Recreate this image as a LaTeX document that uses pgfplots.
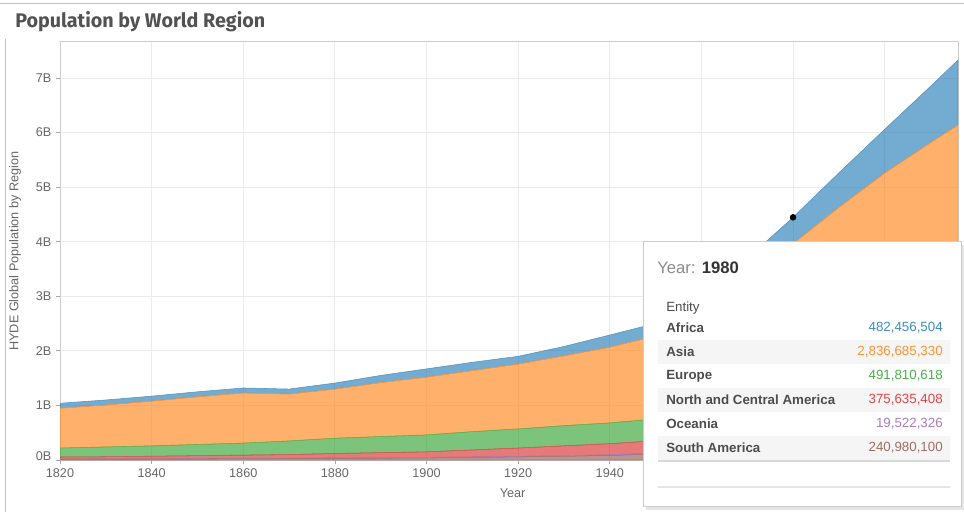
\documentclass[border=0pt]{standalone}
\usepackage{fontspec}
\setmainfont{Liberation Sans}
\newfontfamily\titlefont{Fira Sans}
\usepackage{pgfplots}
\usepackage{pgfplotstable}
\pgfplotsset{compat=1.18}

\definecolor{cAf}{HTML}{1F77B4}
\definecolor{cAs}{HTML}{FF7F0E}
\definecolor{cEu}{HTML}{2CA02C}
\definecolor{cNA}{HTML}{D62728}
\definecolor{cOc}{HTML}{9467BD}
\definecolor{cSA}{HTML}{8C564B}
\definecolor{txt}{HTML}{666666}
\definecolor{dark}{HTML}{4D4D4D}

% population in billions, stacked bottom to top: SA, Oc, NCA, Eu, As, Af
\pgfplotstableread{
year SA     Oc     NCA   Eu    As    Af
1820 0.015  0.002  0.038 0.165 0.73  0.09
1830 0.017  0.002  0.041 0.18  0.77  0.09
1840 0.019  0.002  0.049 0.19  0.82  0.09
1850 0.022  0.003  0.055 0.205 0.875 0.09
1860 0.025  0.003  0.062 0.22  0.92  0.09
1870 0.028  0.004  0.068 0.25  0.86  0.09
1880 0.033  0.005  0.082 0.28  0.90  0.11
1890 0.036  0.006  0.093 0.295 0.99  0.13
1900 0.040  0.006  0.104 0.31  1.06  0.15
1910 0.048  0.007  0.130 0.335 1.12  0.15
1920 0.058  0.008  0.154 0.35  1.19  0.14
1930 0.070  0.010  0.180 0.37  1.28  0.17
1940 0.085  0.011  0.204 0.38  1.39  0.22
1950 0.110  0.013  0.230 0.40  1.52  0.23
1960 0.145  0.016  0.270 0.44  1.87  0.28
1970 0.190  0.019  0.320 0.47  2.33  0.36
1980 0.241  0.0195 0.376 0.492 2.837 0.482
1990 0.290  0.021  0.420 0.50  3.40  0.63
2000 0.350  0.023  0.470 0.51  3.907 0.80
2010 0.400  0.027  0.540 0.52  4.33  1.03
2016 0.420  0.030  0.570 0.52  4.60  1.19
}\popdata

\begin{document}
\begin{tikzpicture}
\path[use as bounding box] (0,0) rectangle (723pt,384pt);
\begin{axis}[
    at={(45pt,39pt)}, anchor=south west,
    width=673.5pt, height=313.5pt, scale only axis,
    xmin=1820, xmax=2016, ymin=0, ymax=7.66,
    stack plots=y,
    xtick={1820,1840,...,2000},
    xticklabels={1820,1840,1860,1880,1900,1920,1940,1960,1980,2000},
    ytick={0,1,...,7},
    yticklabels={{\raisebox{6pt}{0B}},1B,2B,3B,4B,5B,6B,7B},
    grid=major,
    major grid style={black!8, line width=0.75pt},
    axis line style={black!20, line width=0.75pt},
    tick style={black!35, line width=0.6pt},
    tick align=outside, major tick length=3pt, tick pos=left,
    ticklabel style={font=\fontsize{9.5}{11}\selectfont, text=txt},
    xlabel={Year},
    xlabel style={at={(axis description cs:0.504,-0.079)}, anchor=center,
        font=\fontsize{9.5}{11}\selectfont, text=txt},
    ylabel={HYDE Global Population by Region},
    ylabel style={at={(axis description cs:-0.050,0.5)}, anchor=center,
        font=\fontsize{9.5}{11}\selectfont, text=txt},
]
\addplot[fill=cSA, fill opacity=0.62, draw=cSA!80!white, line width=0.4pt] table[x=year,y=SA]{\popdata} \closedcycle;
\addplot[fill=cOc, fill opacity=0.62, draw=cOc!80!white, line width=0.4pt] table[x=year,y=Oc]{\popdata} \closedcycle;
\addplot[fill=cNA, fill opacity=0.62, draw=cNA!80!white, line width=0.4pt] table[x=year,y=NCA]{\popdata} \closedcycle;
\addplot[fill=cEu, fill opacity=0.62, draw=cEu!80!white, line width=0.4pt] table[x=year,y=Eu]{\popdata} \closedcycle;
\addplot[fill=cAs, fill opacity=0.62, draw=cAs!80!white, line width=0.4pt] table[x=year,y=As]{\popdata} \closedcycle;
\addplot[fill=cAf, fill opacity=0.62, draw=cAf!80!white, line width=0.4pt] table[x=year,y=Af]{\popdata} \closedcycle;
% hover point: world total in 1980
\addplot[stack plots=false, only marks, mark=*, mark size=2.2pt, black] coordinates {(1980,4.447)};
\end{axis}

\begin{scope}[x=0.75pt, y=-0.75pt, shift={(0pt,384pt)}]
% widget frame and title
\draw[black!25, line width=0.75pt] (0,4) -- (964,4);
\draw[black!25, line width=0.75pt] (5,39) -- (5,512);
\node[anchor=base west, inner sep=0pt, font=\titlefont\bfseries\fontsize{14.8}{17}\selectfont, text=black!68]
    at (15,28) {Population by World Region};
% tooltip
\fill[black!10] (646,245) rectangle (964,510);
\filldraw[fill=white, draw=black!20, line width=0.75pt] (643,241) rectangle (961,506);
\node[anchor=west, inner sep=0pt, font=\fontsize{12.5}{14}\selectfont] at (657,268)
    {\textcolor{black!45}{Year:} \textcolor{black!80}{\textbf{1980}}};
\node[anchor=west, inner sep=0pt, font=\fontsize{10}{12}\selectfont, text=dark] at (666,308) {Entity};
\fill[black!4] (658,340) rectangle (950,364);
\fill[black!4] (658,388) rectangle (950,412);
\fill[black!4] (658,436) rectangle (950,460);
\draw[black!15, line width=1.2pt] (658,461) -- (950,461);
\draw[black!10, line width=1pt] (658,487) -- (950,487);
\begin{scope}[every node/.style={inner sep=0pt, font=\fontsize{10}{12}\selectfont}]
\node[anchor=west, text=dark] at (666,328) {\textbf{Africa}};
\node[anchor=west, text=dark] at (666,352) {\textbf{Asia}};
\node[anchor=west, text=dark] at (666,376) {\textbf{Europe}};
\node[anchor=west, text=dark] at (666,400) {\textbf{North and Central America}};
\node[anchor=west, text=dark] at (666,424) {\textbf{Oceania}};
\node[anchor=west, text=dark] at (666,448) {\textbf{South America}};
\node[anchor=east, text=cAf!85!white] at (943,328) {482,456,504};
\node[anchor=east, text=cAs!85!white] at (943,352) {2,836,685,330};
\node[anchor=east, text=cEu!85!white] at (943,376) {491,810,618};
\node[anchor=east, text=cNA!85!white] at (943,400) {375,635,408};
\node[anchor=east, text=cOc!85!white] at (943,424) {19,522,326};
\node[anchor=east, text=cSA!85!white] at (943,448) {240,980,100};
\end{scope}
\end{scope}
\end{tikzpicture}
\end{document}
